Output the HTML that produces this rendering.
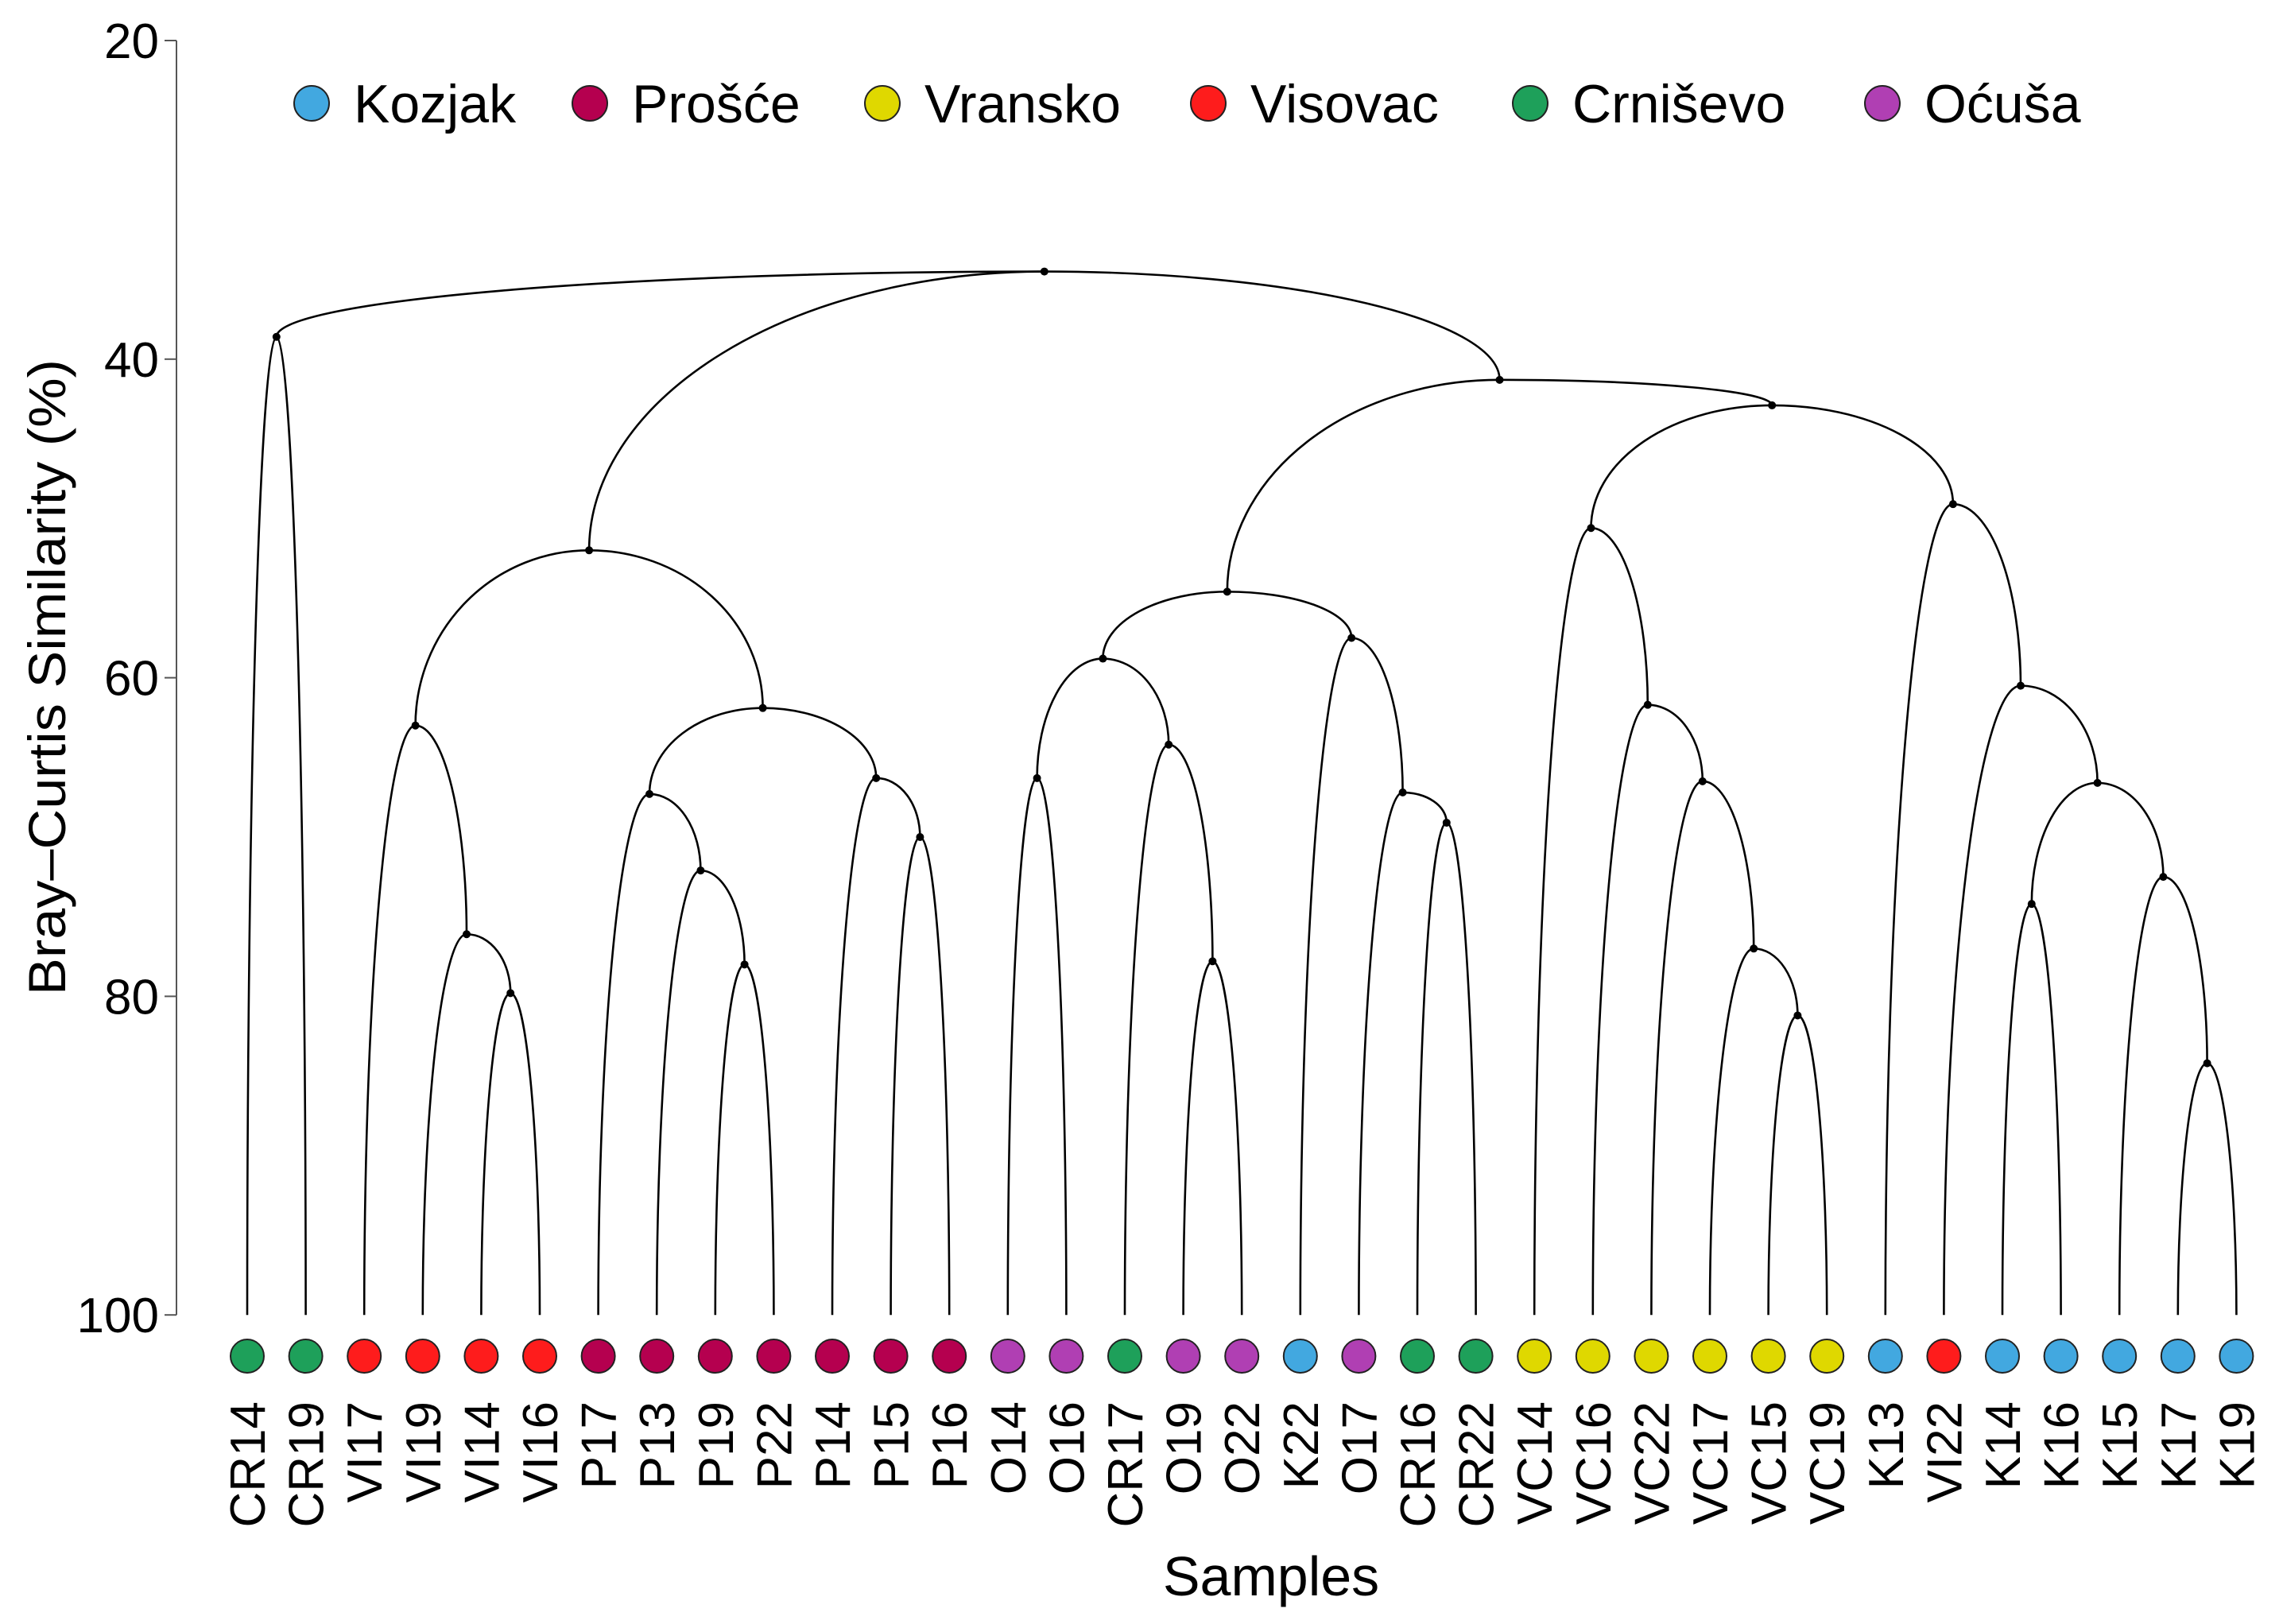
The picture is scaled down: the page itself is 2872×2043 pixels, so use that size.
<!DOCTYPE html>
<html><head><meta charset="utf-8"><style>
html,body{margin:0;padding:0;background:#fff}
svg{display:block;font-family:"Liberation Sans",sans-serif}
</style></head><body>
<svg id="chart" width="2872" height="2043" viewBox="0 0 2872 2043">
<g id="axis"></g>
<g id="tree"></g>
<g id="leaves"></g>
<g id="legend"></g>
<text transform="translate(82,852) rotate(-90)" text-anchor="middle" font-size="66" textLength="800" lengthAdjust="spacingAndGlyphs">Bray–Curtis Similarity (%)</text>
<text x="1599" y="2007" text-anchor="middle" font-size="70">Samples</text>
</svg>
<script>
const yTicks = [20, 40, 60, 80, 100];
const sampleNames = ["CR14","CR19","VI17","VI19","VI14","VI16","P17","P13","P19","P22","P14","P15","P16","O14","O16","CR17","O19","O22","K22","O17","CR16","CR22","VC14","VC16","VC22","VC17","VC15","VC19","K13","VI22","K14","K16","K15","K17","K19"];
const sampleSites = ["Crniševo","Crniševo","Visovac","Visovac","Visovac","Visovac","Prošće","Prošće","Prošće","Prošće","Prošće","Prošće","Prošće","Oćuša","Oćuša","Crniševo","Oćuša","Oćuša","Kozjak","Oćuša","Crniševo","Crniševo","Vransko","Vransko","Vransko","Vransko","Vransko","Vransko","Kozjak","Visovac","Kozjak","Kozjak","Kozjak","Kozjak","Kozjak"];
const siteNames = ["Kozjak","Prošće","Vransko","Visovac","Crniševo","Oćuša"];
const siteColors = ["#42a8e0","#b5004f","#dfd800","#fe1c1c","#1ea05a","#b03fb3"];
// merges: children (leaf index or 35+merge index), similarity
const mergeChildren = [[0,1],[4,5],[3,36],[2,37],[8,9],[7,39],[6,40],[11,12],[10,42],[41,43],[38,44],[13,14],[16,17],[15,47],[46,48],[20,21],[19,50],[18,51],[49,52],[26,27],[25,54],[24,55],[23,56],[22,57],[33,34],[32,59],[30,31],[61,60],[29,62],[28,63],[58,64],[53,65],[35,45,66]];
const mergeHeights = [38.6,79.8,76.1,63.0,78.0,72.1,67.3,70.0,66.3,61.9,52.0,66.3,77.8,64.2,58.8,69.1,67.2,57.5,54.6,81.2,77.0,66.5,61.7,50.6,84.2,72.5,74.2,66.6,60.5,49.1,42.9,41.3,34.5];

const NS="http://www.w3.org/2000/svg";
function mk(tag, attrs, parent){const e=document.createElementNS(NS,tag);for(const k in attrs)e.setAttribute(k,attrs[k]);parent.appendChild(e);return e;}
const yScale = v => 51 + (v-20)*20.04;
const xLeaf = i => 311 + i*73.6;
const axisG=document.getElementById('axis');
const axisLine=mk('line',{x1:222,y1:yScale(20),x2:222,y2:yScale(100),stroke:'#555','stroke-width':2},axisG);


yTicks.forEach(t=>{
  const tk=mk('line',{x1:207,y1:yScale(t),x2:222,y2:yScale(t),stroke:'#555','stroke-width':2},axisG);
  
  
  const tl=mk('text',{x:200,y:yScale(t)+22,'text-anchor':'end','font-size':62},axisG);
  tl.textContent=t;
  
  
});
const nx=[],ny=[];
sampleNames.forEach((n,i)=>{nx[i]=xLeaf(i);ny[i]=yScale(100);});
mergeChildren.forEach((ch,k)=>{
  const id=35+k;
  const xs=ch.map(c=>nx[c]);
  nx[id]= ch.length===2 ? (xs[0]+xs[1])/2 : (xs[1]+xs[2])/2;
  ny[id]=yScale(mergeHeights[k]);
});
const tree=document.getElementById('tree');
mergeChildren.forEach((ch,k)=>{
  const id=35+k, px=nx[id], py=ny[id];
  ch.forEach(c=>{
    const cx=nx[c], cy=ny[c];
    const rx=Math.abs(cx-px)||0.01, ry=Math.abs(cy-py);
    const sweep = cx<px ? 0 : 1;
    const p=mk('path',{d:`M${px},${py} A${rx},${ry} 0 0 ${sweep} ${cx},${cy}`,fill:'none',stroke:'#000','stroke-width':2.6},tree);
    
    
  });
});
mergeChildren.forEach((ch,k)=>{
  const id=35+k;
  const d=mk('circle',{cx:nx[id],cy:ny[id],r:5,fill:'#000'},tree);
  
  
});
const leaves=document.getElementById('leaves');
sampleNames.forEach((n,i)=>{
  const col=siteColors[siteNames.indexOf(sampleSites[i])];
  const c=mk('ellipse',{cx:xLeaf(i),cy:1706,rx:21,ry:21,fill:col,stroke:'#222','stroke-width':2},leaves);
  
  
  const t=mk('text',{transform:`translate(${xLeaf(i)+22},1763) rotate(-90)`,'text-anchor':'end','font-size':62},leaves);
  t.textContent=n;
  
  
});
const legX=[392,742,1110,1520,1925,2368];
const legend=document.getElementById('legend');
siteNames.forEach((s,i)=>{
  const c=mk('circle',{cx:legX[i],cy:130,r:22,fill:siteColors[i],stroke:'#222','stroke-width':2},legend);
  
  
  const t=mk('text',{x:legX[i]+53,y:154,'font-size':68},legend);
  t.textContent=s;
  
  
});
</script>
</body></html>
